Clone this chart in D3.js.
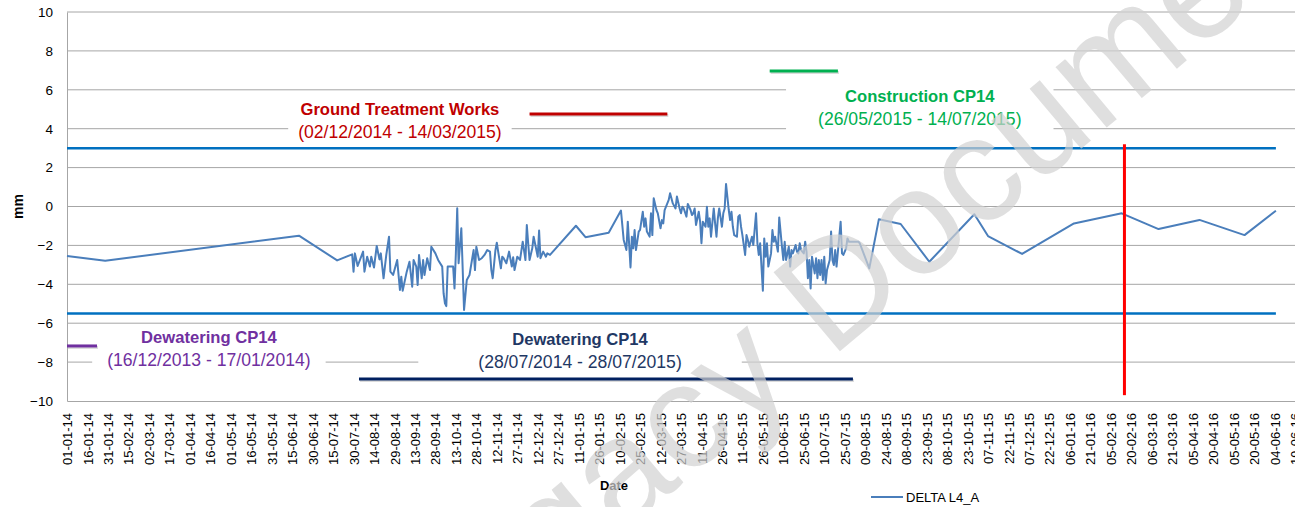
<!DOCTYPE html>
<html>
<head>
<meta charset="utf-8">
<script src="https://cdn.jsdelivr.net/npm/d3@7"></script>
<style>
  html, body { margin: 0; padding: 0; background: #fff; }
  svg { display: block; font-family: "Liberation Sans", Arial, sans-serif; }
</style>
</head>
<body>
<svg id="chart" width="1295" height="507"></svg>
<script>

// ---- data ----
var yTicks = [10, 8, 6, 4, 2, 0, -2, -4, -6, -8, -10];
var tickStart = "2014-01-01", tickStepDays = 15, tickCount = 61;
var axisEnd = "2016-06-19";

var limitUpper = 3, limitLower = -5.5;
var markerDate = "2016-02-15", markerTop = 3.2, markerBottom = -9.7;

var phaseTitles  = ["Ground Treatment Works", "Construction CP14", "Dewatering CP14", "Dewatering CP14"];
var phasePeriods = ["(02/12/2014 - 14/03/2015)", "(26/05/2015 - 14/07/2015)", "(16/12/2013 - 17/01/2014)", "(28/07/2014 - 28/07/2015)"];
var phaseFrom    = ["2014-12-06", "2015-05-31", "2014-01-01", "2014-08-03"];
var phaseTo      = ["2015-03-17", "2015-07-20", "2014-01-23", "2015-07-31"];
var phaseLevel   = [4.76, 6.97, -7.17, -8.87];

// DELTA L4_A readings [date, mm]
var deltaL4A = [
 ["2014-01-01",-2.55],["2014-01-29",-2.79],["2014-06-20",-1.50],["2014-07-18",-2.77],
 ["2014-07-29",-2.46],["2014-07-30",-3.35],["2014-07-31",-2.41],["2014-08-02",-3.06],
 ["2014-08-06",-2.32],["2014-08-07",-3.35],["2014-08-09",-2.58],["2014-08-11",-3.09],
 ["2014-08-12",-2.58],["2014-08-14",-3.14],["2014-08-16",-2.03],["2014-08-18",-2.72],
 ["2014-08-19",-2.41],["2014-08-21",-3.69],["2014-08-23",-2.49],["2014-08-25",-1.55],
 ["2014-08-26",-3.35],["2014-08-28",-3.52],["2014-08-31",-2.75],["2014-09-02",-4.29],
 ["2014-09-03",-3.61],["2014-09-04",-4.33],["2014-09-07",-3.35],["2014-09-09",-2.84],
 ["2014-09-11",-4.12],["2014-09-12",-2.75],["2014-09-14",-3.09],["2014-09-15",-4.04],
 ["2014-09-16",-2.49],["2014-09-18",-3.69],["2014-09-19",-2.75],["2014-09-20",-3.52],
 ["2014-09-22",-2.66],["2014-09-24",-3.27],["2014-09-25",-2.07],["2014-09-28",-2.41],
 ["2014-09-30",-2.75],["2014-10-03",-3.09],["2014-10-04",-4.46],["2014-10-05",-4.98],
 ["2014-10-06",-5.12],["2014-10-07",-3.09],["2014-10-11",-3.09],["2014-10-12",-4.21],
 ["2014-10-13",-2.41],["2014-10-14",-0.09],["2014-10-15",-2.92],["2014-10-17",-1.12],
 ["2014-10-19",-5.32],["2014-10-21",-3.78],["2014-10-23",-3.52],["2014-10-26",-2.24],
 ["2014-10-27",-3.27],["2014-10-28",-2.07],["2014-10-30",-2.75],["2014-11-01",-2.66],
 ["2014-11-03",-2.49],["2014-11-05",-2.24],["2014-11-07",-2.32],["2014-11-08",-3.27],
 ["2014-11-09",-3.69],["2014-11-11",-2.24],["2014-11-12",-1.86],["2014-11-13",-2.32],
 ["2014-11-15",-3.18],["2014-11-16",-2.58],["2014-11-17",-2.66],["2014-11-19",-2.92],
 ["2014-11-21",-2.32],["2014-11-23",-3.09],["2014-11-24",-2.61],["2014-11-25",-3.27],
 ["2014-11-27",-2.58],["2014-11-29",-2.75],["2014-12-01",-1.81],["2014-12-03",-2.75],
 ["2014-12-04",-0.95],["2014-12-05",-1.89],["2014-12-06",-2.75],["2014-12-08",-2.15],
 ["2014-12-09",-1.55],["2014-12-11",-2.24],["2014-12-12",-2.58],["2014-12-13",-1.24],
 ["2014-12-14",-2.66],["2014-12-16",-2.32],["2014-12-18",-2.58],["2014-12-19",-2.41],
 ["2014-12-21",-2.49],["2015-01-09",-0.99],["2015-01-16",-1.58],["2015-02-02",-1.35],
 ["2015-02-11",-0.21],["2015-02-13",-1.72],["2015-02-15",-2.24],["2015-02-16",-0.78],
 ["2015-02-18",-3.13],["2015-02-19",-1.55],["2015-02-20",-2.15],["2015-02-21",-1.21],
 ["2015-02-22",-2.24],["2015-02-24",-1.29],["2015-02-25",-1.20],["2015-02-27",-0.27],
 ["2015-02-28",-1.04],["2015-03-01",-0.61],["2015-03-02",-1.29],["2015-03-04",-1.55],
 ["2015-03-05",-0.35],["2015-03-06",-1.47],["2015-03-07",0.42],["2015-03-09",-0.18],
 ["2015-03-10",-0.35],["2015-03-12",-1.12],["2015-03-13",-0.70],["2015-03-14",-0.87],
 ["2015-03-15",-0.18],["2015-03-18",0.34],["2015-03-19",0.68],["2015-03-21",0.16],
 ["2015-03-23",-0.10],["2015-03-24",0.51],["2015-03-26",-0.10],["2015-03-27",-0.35],
 ["2015-03-28",-0.01],["2015-03-29",-0.10],["2015-03-31",-0.52],["2015-04-01",0.13],
 ["2015-04-03",-0.18],["2015-04-04",-0.44],["2015-04-05",-0.35],["2015-04-06",-0.10],
 ["2015-04-07",-0.95],["2015-04-09",-0.27],["2015-04-10",-0.78],["2015-04-11",-1.89],
 ["2015-04-12",-0.78],["2015-04-14",-1.04],["2015-04-15",-0.01],["2015-04-16",-1.04],
 ["2015-04-17",-0.61],["2015-04-18",-1.55],["2015-04-20",-0.10],["2015-04-21",-0.87],
 ["2015-04-22",-1.55],["2015-04-23",-0.61],["2015-04-24",-0.10],["2015-04-26",-1.04],
 ["2015-04-27",-0.35],["2015-04-28",-0.10],["2015-04-29",1.16],["2015-05-01",-0.18],
 ["2015-05-02",-0.70],["2015-05-03",-0.27],["2015-05-04",-1.04],["2015-05-05",-1.47],
 ["2015-05-07",-1.55],["2015-05-08",-0.52],["2015-05-09",-0.44],["2015-05-10",-1.04],
 ["2015-05-11",-1.47],["2015-05-13",-2.49],["2015-05-14",-1.47],["2015-05-15",-1.72],
 ["2015-05-16",-2.07],["2015-05-18",-1.55],["2015-05-19",-1.98],["2015-05-21",-0.35],
 ["2015-05-22",-1.89],["2015-05-23",-2.49],["2015-05-24",-1.89],["2015-05-26",-4.33],
 ["2015-05-27",-1.64],["2015-05-28",-2.58],["2015-05-29",-1.89],["2015-05-30",-3.09],
 ["2015-06-01",-2.41],["2015-06-02",-1.21],["2015-06-03",-1.81],["2015-06-04",-1.55],
 ["2015-06-06",-2.32],["2015-06-07",-0.56],["2015-06-09",-2.07],["2015-06-10",-2.75],
 ["2015-06-11",-1.81],["2015-06-12",-2.75],["2015-06-14",-2.07],["2015-06-15",-3.09],
 ["2015-06-16",-2.24],["2015-06-17",-2.41],["2015-06-19",-1.98],["2015-06-20",-2.32],
 ["2015-06-21",-2.41],["2015-06-22",-1.89],["2015-06-23",-2.24],["2015-06-25",-2.41],
 ["2015-06-26",-1.81],["2015-06-27",-2.32],["2015-06-28",-3.69],["2015-06-29",-2.75],
 ["2015-06-30",-4.21],["2015-07-01",-2.58],["2015-07-03",-3.44],["2015-07-04",-2.66],
 ["2015-07-05",-3.69],["2015-07-06",-2.75],["2015-07-07",-3.52],["2015-07-08",-2.75],
 ["2015-07-09",-3.78],["2015-07-10",-2.58],["2015-07-11",-3.95],["2015-07-12",-3.27],
 ["2015-07-14",-2.75],["2015-07-15",-1.29],["2015-07-16",-2.75],["2015-07-17",-3.01],
 ["2015-07-18",-2.24],["2015-07-19",-3.09],["2015-07-21",-1.55],["2015-07-22",-0.78],
 ["2015-07-23",-2.41],["2015-07-24",-2.49],["2015-07-26",-2.15],["2015-07-27",-1.64],
 ["2015-07-28",-1.81],["2015-07-29",-1.81],["2015-08-04",-1.81],["2015-08-05",-1.89],
 ["2015-08-12",-3.18],["2015-08-19",-0.66],["2015-09-04",-0.90],["2015-09-25",-2.84],
 ["2015-10-28",-0.40],["2015-11-07",-1.52],["2015-12-02",-2.44],["2016-01-09",-0.87],
 ["2016-02-13",-0.35],["2016-03-11",-1.16],["2016-04-10",-0.69],["2016-05-13",-1.47],
 ["2016-06-05",-0.22]
];

// ---- drawing ----
var parse = d3.utcParse("%Y-%m-%d");
var svg = d3.select("#chart");
var chartW = 1295;
var plotLeft = 67, plotTop = 12, plotBottom = 401;

var x = d3.scaleUtc().domain([parse(tickStart), parse(axisEnd)]).range([plotLeft, chartW]);
var y = d3.scaleLinear().domain([-10, 10]).range([plotBottom, plotTop]);

var series = deltaL4A.map(function(d) { return { date: parse(d[0]), v: d[1] }; });
var firstDate = series[0].date, lastDate = series[series.length - 1].date;

// gridlines
svg.append("g").selectAll("line")
  .data(yTicks.filter(function(t) { return t > -10; }))
  .enter().append("line")
    .attr("x1", plotLeft).attr("x2", chartW)
    .attr("y1", function(d) { return y(d); })
    .attr("y2", function(d) { return y(d); })
    .attr("stroke", "#a6a6a6").attr("stroke-width", 1);

// axes
var yAxis = svg.append("g").attr("transform", "translate(" + plotLeft + ",0)")
  .call(d3.axisLeft(y).tickValues(yTicks).tickSize(0).tickPadding(14));
yAxis.select(".domain").attr("stroke", "#a6a6a6");
yAxis.selectAll("text").attr("font-size", 13.5).attr("fill", "#000")
  .attr("font-family", "Liberation Sans, Arial, sans-serif");

var tickDates = d3.range(tickCount).map(function(i) {
  return d3.utcDay.offset(parse(tickStart), i * tickStepDays);
});
var xAxis = svg.append("g").attr("transform", "translate(0," + plotBottom + ")")
  .call(d3.axisBottom(x).tickValues(tickDates).tickSize(0)
        .tickFormat(d3.utcFormat("%d-%m-%y")));
xAxis.select(".domain").attr("stroke", "#a6a6a6");
xAxis.selectAll("text")
  .attr("font-size", 13).attr("fill", "#000")
  .attr("font-family", "Liberation Sans, Arial, sans-serif")
  .attr("transform", "rotate(-90)")
  .attr("text-anchor", "end")
  .attr("x", -12).attr("y", 0).attr("dy", "0.35em");

// phase labels (white boxes hide the gridlines behind them)
var labelLayout = [
  { date: "2014-09-02", level: 4.70, padX: 10, title: "#C00000", period: "#C00000", bar: "#C00000" },
  { date: "2015-09-18", level: 5.37, padX: 32, title: "#00B050", period: "#00B050", bar: "#00B050" },
  { date: "2014-04-15", level: -7.02, padX: 15, title: "#7030A0", period: "#7030A0", bar: "#7030A0" },
  { date: "2015-01-12", level: -7.12, padX: 60, title: "#1F3864", period: "#1F3864", bar: "#002060" }
];

var labelsG = svg.append("g");
labelLayout.forEach(function(L, i) {
  var g = labelsG.append("g");
  var cx = x(parse(L.date)), by = y(L.level);
  var box = g.append("rect").attr("fill", "#fff");
  g.append("text").attr("x", cx).attr("y", by)
    .attr("text-anchor", "middle").attr("font-size", 16.6).attr("font-weight", "bold")
    .attr("fill", L.title).text(phaseTitles[i]);
  g.append("text").attr("x", cx).attr("y", by + 23)
    .attr("text-anchor", "middle").attr("font-size", 17.6)
    .attr("fill", L.period).text(phasePeriods[i]);
  var bb = g.node().getBBox();
  box.attr("x", bb.x - L.padX).attr("y", bb.y - 2)
    .attr("width", bb.width + 2 * L.padX).attr("height", bb.height + 3);
});

// limit lines
[limitUpper, limitLower].forEach(function(v) {
  svg.append("line")
    .attr("x1", x(firstDate)).attr("x2", x(lastDate))
    .attr("y1", y(v)).attr("y2", y(v))
    .attr("stroke", "#0070C0").attr("stroke-width", 2.5);
});

// phase bars
labelLayout.forEach(function(L, i) {
  svg.append("line")
    .attr("x1", x(parse(phaseFrom[i])) + 1).attr("x2", x(parse(phaseTo[i])) + 1)
    .attr("y1", y(phaseLevel[i]) + 1.5).attr("y2", y(phaseLevel[i]) + 1.5)
    .attr("stroke", "#999").attr("stroke-opacity", 0.35).attr("stroke-width", 3);
  svg.append("line")
    .attr("x1", x(parse(phaseFrom[i]))).attr("x2", x(parse(phaseTo[i])))
    .attr("y1", y(phaseLevel[i])).attr("y2", y(phaseLevel[i]))
    .attr("stroke", L.bar).attr("stroke-width", 3);
});

// DELTA L4_A series
var line = d3.line()
  .x(function(d) { return x(d.date); })
  .y(function(d) { return y(d.v); });
svg.append("path").datum(series)
  .attr("d", line)
  .attr("fill", "none")
  .attr("stroke", "#4A7EBB").attr("stroke-width", 2)
  .attr("stroke-linejoin", "round");

// red marker
svg.append("line")
  .attr("x1", x(parse(markerDate))).attr("x2", x(parse(markerDate)))
  .attr("y1", y(markerTop)).attr("y2", y(markerBottom))
  .attr("stroke", "#FF0000").attr("stroke-width", 3);

// axis titles
svg.append("text").attr("transform", "translate(23," + y(0) + ") rotate(-90)")
  .attr("text-anchor", "middle").attr("font-size", 14).attr("font-weight", "bold")
  .text("mm");
svg.append("text").attr("x", 614).attr("y", 490)
  .attr("text-anchor", "middle").attr("font-size", 13).attr("font-weight", "bold")
  .text("Date");

// legend
svg.append("line").attr("x1", 871).attr("x2", 903).attr("y1", 497).attr("y2", 497)
  .attr("stroke", "#4A7EBB").attr("stroke-width", 2);
svg.append("text").attr("x", 906).attr("y", 502).attr("font-size", 13)
  .attr("fill", "#000").text("DELTA L4_A");

// watermark
svg.append("text")
  .attr("transform", "translate(428,697) rotate(-40)")
  .attr("font-size", 150)
  .attr("font-family", "Liberation Sans, Arial, sans-serif")
  .attr("fill", "#d2d2d2").attr("fill-opacity", 0.7)
  .text("Legacy Document");

</script>
</body>
</html>
